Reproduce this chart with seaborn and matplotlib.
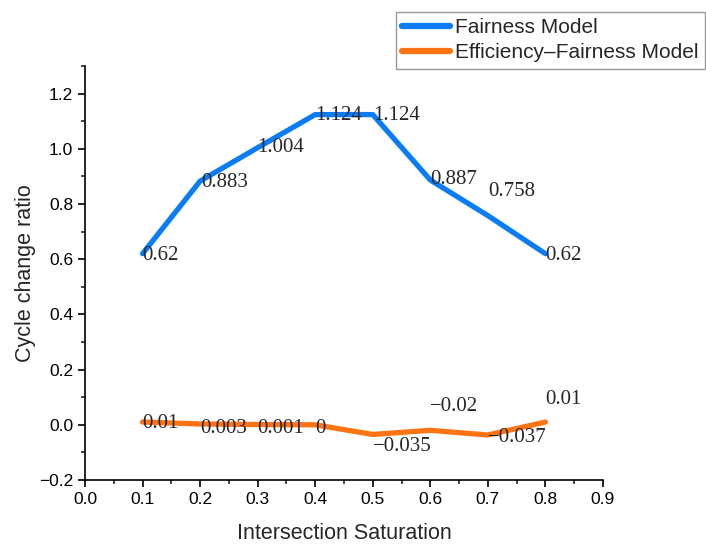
import pandas as pd
import numpy as np
import seaborn as sns
import matplotlib.pyplot as plt
from matplotlib.ticker import MultipleLocator

# data
saturation = [0.1, 0.2, 0.3, 0.4, 0.5, 0.6, 0.7, 0.8]
fairness = [0.62, 0.883, 1.004, 1.124, 1.124, 0.887, 0.758, 0.62]
eff_fairness = [0.01, 0.003, 0.001, 0, -0.035, -0.02, -0.037, 0.01]
fair_labels = ['0.62', '0.883', '1.004', '1.124', '1.124', '0.887', '0.758', '0.62']
eff_labels = ['0.01', '0.003', '0.001', '0', '\u22120.035', '\u22120.02', '\u22120.037', '0.01']
series_names = ['Fairness Model', 'Efficiency\u2013Fairness Model']
x_ticks = [0.0, 0.1, 0.2, 0.3, 0.4, 0.5, 0.6, 0.7, 0.8, 0.9]
y_ticks = [-0.2, 0.0, 0.2, 0.4, 0.6, 0.8, 1.0, 1.2]

df = pd.concat([
    pd.DataFrame({'x': saturation, 'y': fairness, 'model': series_names[0]}),
    pd.DataFrame({'x': saturation, 'y': eff_fairness, 'model': series_names[1]}),
])

sns.set_style('ticks')
plt.rcParams['font.family'] = ['Liberation Sans', 'DejaVu Sans']

fig = plt.figure(figsize=(7.06, 5.46), dpi=100)
ax = fig.add_axes([0.1204, 0.1209, 0.7336, 0.7582])

colors = ['#0a7cf5', '#ff7412']
sns.lineplot(data=df, x='x', y='y', hue='model', palette=colors,
             linewidth=3.8, ax=ax, legend=False)

# label offsets in points (dx, dy) per point
fair_off = [(0, -1), (1, -1), (0, 0), (0, -1), (0, -1), (0, 0), (0, 17), (0, -1)]
eff_off = [(0, -1), (0, -3), (0, -3), (0, -3), (0, -9), (0, 17), (0, -2), (0, 16)]
for xv, yv, t, o in zip(saturation, fairness, fair_labels, fair_off):
    ax.annotate(t, (xv, yv), xytext=o, textcoords='offset points', ha='left', va='center',
                fontsize=15, family='Liberation Serif')
for xv, yv, t, o in zip(saturation, eff_fairness, eff_labels, eff_off):
    ax.annotate(t, (xv, yv), xytext=o, textcoords='offset points', ha='left', va='center',
                fontsize=15, family='Liberation Serif')

ax.set_xlim(0, 0.9)
ax.set_ylim(-0.2, 1.3)
ax.set_xticks(x_ticks)
ax.set_yticks(y_ticks)
ax.xaxis.set_minor_locator(MultipleLocator(0.05))
ax.yaxis.set_minor_locator(MultipleLocator(0.1))
ax.set_xticklabels([f'{v:.1f}' for v in x_ticks])
ax.set_yticklabels([f'{v:.1f}'.replace('-', '\u2212') for v in y_ticks])
ax.tick_params(which='major', direction='out', length=5, width=1.2, labelsize=12.5, colors='black')
ax.tick_params(which='minor', direction='out', length=3, width=1.2)
for s in ['top', 'right']:
    ax.spines[s].set_visible(False)
for s in ['left', 'bottom']:
    ax.spines[s].set_linewidth(1.2)
    ax.spines[s].set_color('black')

ax.set_xlabel('Intersection Saturation', fontsize=15.5, labelpad=12)
ax.set_ylabel('Cycle change ratio', fontsize=15.5, labelpad=2)

# legend sits in the top right corner of the figure, outside the axes
handles = [plt.Line2D([], [], color=c, linewidth=4.5) for c in colors]
leg = fig.legend(handles, series_names, loc='upper left', bbox_to_anchor=(396 / 706, 1 - 12 / 546),
                 fontsize=15, frameon=True, fancybox=False, handlelength=2.3, handletextpad=0.25,
                 borderpad=0.3, labelspacing=0.3, borderaxespad=0)
leg.get_frame().set_edgecolor('#808080')
leg.get_frame().set_linewidth(1)

fig.savefig('out.png', dpi=100)
